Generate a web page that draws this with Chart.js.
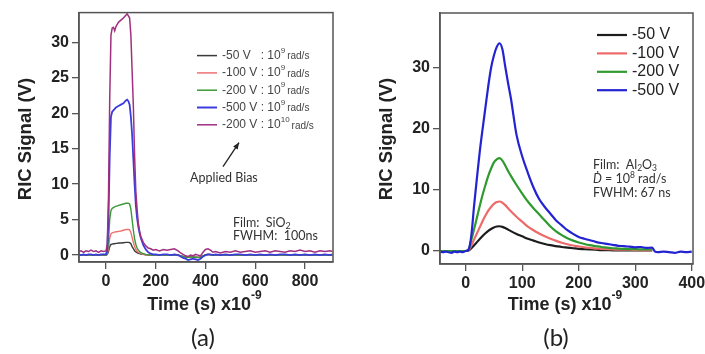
<!DOCTYPE html>
<html><head><meta charset="utf-8">
<script src="https://cdn.jsdelivr.net/npm/chart.js@4/dist/chart.umd.min.js"></script>
<style>
html,body{margin:0;padding:0;background:#fff;overflow:hidden;width:705px;height:354px;}
#wrap{position:relative;width:705px;height:354px;overflow:hidden;background:#fff;}
canvas{position:absolute;top:0;}
#ca{left:0;} #cb{left:360px;}
.lab{position:absolute;font-family:Lato,'Open Sans',sans-serif;font-size:24px;color:#222;transform:translate(-50%,-50%);line-height:1;white-space:nowrap;}
</style></head><body>
<div id="wrap">
<canvas id="ca" width="360" height="354"></canvas>
<canvas id="cb" width="360" height="354"></canvas>
<div class="lab" style="left:203px;top:337px">(a)</div>
<div class="lab" style="left:556px;top:337px">(b)</div>
</div>
<script>
// ---------------- Panel (a): SiO2, time in ns ----------------
const timeA = [
-110,-100,-90,-80,-70,-60,-50,-40,-30,-20,-10,
0,5,10,15,20,25,30,35,40,45,50,
60,70,80,85,90,95,100,105,110,115,
120,125,130,135,140,150,160,170,180,190,
200,215,230,245,260,275,290,300,310,320,
330,340,350,360,370,380,390,400,410,420,
430,440,460,480,500,520,540,560,580,600,
620,640,660,680,700,720,740,760,780,800,
820,840,860,880,900,910];
const a_m50 = [
0,0.05,0,0.05,0,0,0.05,0,0,0.05,0,
0,0.1,0.5,1.2,1.5,1.55,1.6,1.6,1.65,1.65,1.7,
1.7,1.75,1.8,1.8,1.8,1.75,1.6,1.2,0.9,0.6,
0.45,0.35,0.25,0.2,0.15,0.1,0.05,0,0,0,
0,0.05,0,0,0.05,0,0,-0.1,-0.2,-0.25,
-0.3,-0.2,-0.25,-0.3,-0.3,-0.25,-0.1,0,0.1,0.05,
0,0.05,0,0,0.05,0,0,0.05,0,0,
0.05,0,0,0.05,0,0,0.05,0,0,0.05,
0,0,0.05,0,0,0];
const a_m100 = [
0,0,0.05,0,0,0.05,0,0,0.05,0,0,
0,0.2,1.0,2.4,3.0,3.15,3.2,3.25,3.3,3.3,3.35,
3.4,3.5,3.6,3.6,3.6,3.55,3.2,2.5,1.8,1.2,
0.8,0.55,0.4,0.3,0.2,0.1,0.05,0,0,0,
0.05,0,0,0.05,0,0,0.05,-0.1,-0.2,-0.3,
-0.3,-0.25,-0.3,-0.35,-0.3,-0.25,-0.1,0.05,0.1,0.05,
0,0,0.05,0,0,0.05,0,0,0.05,0,
0,0.05,0,0,0.05,0,0,0.05,0,0,
0.05,0,0,0.05,0,0];
const a_m200 = [
0,0.05,0,0,0.05,0,0,0.05,0,0,0.05,
0,0.3,2.0,5.0,6.3,6.6,6.7,6.8,6.9,6.9,7.0,
7.1,7.2,7.3,7.3,7.3,7.2,6.5,5.0,3.5,2.3,
1.5,1.0,0.7,0.5,0.35,0.2,0.1,0.05,0,0,
0,0,0.05,0,0,0.05,0,-0.1,-0.2,-0.3,
-0.3,-0.25,-0.3,-0.3,-0.35,-0.3,-0.1,0.05,0.1,0.05,
0,0.05,0,0.05,0,0,0.05,0,0.05,0,
0,0.05,0,0,0.05,0,0.05,0,0,0.05,
0,0.05,0,0.05,0,0];
const a_m500 = [
0.1,0.0,0.1,0.0,0.1,0.1,0.0,0.1,0.0,0.1,0.1,
0.1,0.8,5,14,19.5,20.2,20.4,20.6,20.8,20.9,21.0,
21.2,21.4,21.8,21.9,21.7,21.2,19.5,17,13.5,10,
7,5.2,4,3.1,2.4,1.4,0.8,0.4,0.2,0.1,
0.1,0.0,0.1,0.1,0.0,0.1,0.0,-0.2,-0.4,-0.5,
-0.7,-0.6,-0.5,-0.6,-0.7,-0.5,-0.2,0.0,0.1,0.1,
0.0,0.1,0.0,0.1,0.0,0.1,0.1,0.0,0.1,0.0,
0.1,0.0,0.1,0.0,0.1,0.1,0.0,0.1,0.0,0.1,
0.0,0.1,0.0,0.1,0.0,0.1];
const a_m200_hi = [
0.5,0.6,0.4,0.6,0.5,0.7,0.5,0.6,0.4,0.6,0.5,
0.6,1.5,8,22,31,32,32.1,31.6,32.2,32.5,32.8,
33.1,33.4,33.8,34.0,33.7,33.4,31,26,21,14,
9,6.5,4.5,3.4,2.6,1.8,1.3,1.0,0.9,0.7,
0.8,0.6,0.8,0.7,0.8,0.9,0.6,0.3,0.1,-0.1,
-0.2,0.0,-0.1,0.1,0.0,-0.1,0.4,0.8,0.9,0.7,
0.4,0.5,0.3,0.5,0.4,0.6,0.4,0.5,0.6,0.4,
0.5,0.6,0.4,0.6,0.5,0.4,0.6,0.5,0.7,0.5,
0.6,0.4,0.6,0.5,0.6,0.5];
const legendA_bias = ['-50 V','-100 V','-200 V','-500 V','-200 V'];
const legendA_exp = ['9','9','9','9','10'];
const xTicksA = [0,200,400,600,800];
const yTicksA = [0,5,10,15,20,25,30];

// ---------------- Panel (b): Al2O3 ----------------
const timeB = [
-45,-40,-35,-30,-25,-20,-15,-10,-5,0,
5,10,15,20,25,30,35,40,45,50,55,60,65,70,75,80,
90,100,110,120,130,140,150,160,170,180,
190,200,210,220,230,240,250,260,270,280,
290,300,310,320,330,
335,340,350,360,370,380,390,400];
const b_m50 = [
0,0,0,0,0,0,0,0,0,0,
0.05,0.45,0.95,1.45,1.95,2.45,2.9,3.3,3.6,3.85,4.0,4.05,3.95,3.75,3.5,3.25,
2.8,2.4,2.0,1.7,1.4,1.15,0.95,0.8,0.65,0.55,
0.45,0.35,0.3,0.25,0.2,0.15,0.15,0.1,0.1,0.1,
0.1,0.1,0.1,0.1,0.1,
null,null,null,null,null,null,null,null];
const b_m100 = [
0,0,0,0,0,0,0,0,0,0,
0.1,0.9,1.9,2.9,3.9,4.9,5.8,6.6,7.2,7.7,8.0,8.1,7.9,7.5,7.0,6.5,
5.6,4.8,4.0,3.4,2.85,2.4,2.0,1.65,1.35,1.1,
0.9,0.75,0.6,0.5,0.4,0.35,0.3,0.25,0.2,0.2,
0.2,0.15,0.15,0.15,0.15,
null,null,null,null,null,null,null,null];
const b_m200 = [
0,0,0,0,0,0,0,0,0,0,
0.2,1.8,3.6,5.5,7.4,9.2,10.8,12.3,13.5,14.5,15.0,15.2,14.8,14.0,13.1,12.3,
10.8,9.4,8.1,7.0,6.0,5.0,4.0,3.2,2.6,2.1,
1.7,1.4,1.15,0.95,0.8,0.65,0.55,0.45,0.4,0.35,
0.3,0.3,0.25,0.25,0.25,
null,null,null,null,null,null,null,null];
const b_m500 = [
-0.1,-0.2,-0.1,-0.2,-0.3,-0.1,-0.2,-0.1,-0.2,0.0,
0.2,2.5,7.5,12,16.3,20,23.5,27,30,32,33.4,34,33,30.2,27.5,25,
19,15.5,12.8,10.4,8.5,7.2,6.1,5.0,4.2,3.4,
2.8,2.3,2.0,1.75,1.5,1.3,1.15,1.0,0.85,0.8,
0.7,0.6,0.65,0.5,0.55,
-0.1,-0.2,-0.1,-0.2,-0.3,-0.1,-0.2,-0.1];
const legendB = ['-50 V','-100 V','-200 V','-500 V'];
const xTicksB = [0,100,200,300,400];
const yTicksB = [0,10,20,30];

// ---------------- helpers ----------------
const ARIAL = '"Liberation Sans", Arial, sans-serif';
const CAL = 'Lato, "Open Sans", sans-serif';
function pts(t, v){ return t.map((x,i)=>({x:x, y:v[i]})); }
function rich(ctx, x, y, parts, color){
  ctx.save(); ctx.fillStyle = color; ctx.textBaseline = 'middle'; ctx.textAlign = 'left';
  for (const [t,f,dy] of parts){ ctx.font = f; ctx.fillText(t, x, y + (dy||0)); x += ctx.measureText(t).width; }
  ctx.restore(); return x;
}
function richWidth(ctx, parts){
  let w = 0; ctx.save();
  for (const [t,f] of parts){ ctx.font = f; w += ctx.measureText(t).width; }
  ctx.restore(); return w;
}
function scales(xr, xt, yr, yt){
  const mk = (ticksArr, fitFn) => ({
    type:'linear',
    grid:{display:true, drawOnChartArea:false, drawTicks:true, tickLength:7, color:'#555', lineWidth:1.3},
    border:{display:true, color:'#555', width:1.5},
    ticks:{color:'#222', font:{family:ARIAL, size:16, weight:'bold'}, padding:3, autoSkip:false, maxRotation:0,
           callback:v=>String(v)},
    afterBuildTicks:s=>{ s.ticks = ticksArr.map(v=>({value:v})); },
    afterFit:fitFn
  });
  const x = mk(xt, s=>{ s.height = 30; }); x.min = xr[0]; x.max = xr[1];
  const y = mk(yt, s=>{ s.width = 40; }); y.min = yr[0]; y.max = yr[1];
  return {x, y};
}
function frameAndTitles(c){
  const ctx = c.ctx, a = c.chartArea;
  ctx.save();
  ctx.strokeStyle = '#555'; ctx.lineWidth = 1.5;
  ctx.strokeRect(a.left, a.top, a.right - a.left, a.bottom - a.top);
  ctx.translate(a.left - 53.5, 139); ctx.rotate(-Math.PI/2);
  ctx.fillStyle = '#222'; ctx.font = 'bold 18.5px ' + ARIAL; ctx.textAlign = 'center'; ctx.textBaseline = 'middle';
  ctx.fillText('RIC Signal (V)', 0, 0);
  ctx.restore();
  const parts = [['Time (s) x10', 'bold 18px ' + ARIAL, 0], ['-9', 'bold 12px ' + ARIAL, -9]];
  const w = richWidth(ctx, parts);
  rich(ctx, (a.left + a.right)/2 - 1.5 - w/2, 305, parts, '#222');
}

// ---------------- chart (a) ----------------
const dsA = [
  {label:'-200 V : 1e10', data:pts(timeA,a_m200_hi), borderColor:'#a0307f', borderWidth:1.5, order:0},
  {label:'-500 V', data:pts(timeA,a_m500), borderColor:'#3c3cdc', borderWidth:1.8, order:1},
  {label:'-200 V', data:pts(timeA,a_m200), borderColor:'#3a9a3a', borderWidth:1.4, order:2},
  {label:'-100 V', data:pts(timeA,a_m100), borderColor:'#f07070', borderWidth:1.4, order:3},
  {label:'-50 V', data:pts(timeA,a_m50), borderColor:'#3a3a3a', borderWidth:1.4, order:4}
];
const legendColorsA = ['#3a3a3a','#f07070','#3a9a3a','#3c3cdc','#a0307f'];
const plugA = {
  id:'plugA',
  afterDraw(c){
    const ctx = c.ctx, a = c.chartArea;
    frameAndTitles(c);
    for (let i = 0; i < legendA_bias.length; i++){
      const y = a.top + 43 + i*17.3;
      ctx.save(); ctx.strokeStyle = legendColorsA[i]; ctx.lineWidth = i===3 ? 2 : 1.5;
      ctx.beginPath(); ctx.moveTo(a.left + 118, y); ctx.lineTo(a.left + 138, y); ctx.stroke(); ctx.restore();
      const f = '12px ' + ARIAL;
      rich(ctx, a.left + 143, y, [[legendA_bias[i], f, 0]], '#444');
      const xe = rich(ctx, a.left + 181.7, y, [[':', f, 0], [' 10', f, 0], [legendA_exp[i], '8px ' + ARIAL, -5]], '#444');
      rich(ctx, xe + 2, y + 1, [['rad/s', '10px ' + ARIAL, 0]], '#444');
    }
    ctx.save(); ctx.strokeStyle = '#222'; ctx.fillStyle = '#222'; ctx.lineWidth = 1.3;
    const x0 = a.left + 144, y0 = a.top + 154, x1 = a.left + 160, y1 = a.top + 130;
    ctx.beginPath(); ctx.moveTo(x0, y0); ctx.lineTo(x1, y1); ctx.stroke();
    const ang = Math.atan2(y1 - y0, x1 - x0), L = 7;
    ctx.beginPath(); ctx.moveTo(x1, y1);
    ctx.lineTo(x1 - L*Math.cos(ang - 0.4), y1 - L*Math.sin(ang - 0.4));
    ctx.lineTo(x1 - L*Math.cos(ang + 0.4), y1 - L*Math.sin(ang + 0.4));
    ctx.closePath(); ctx.fill(); ctx.restore();
    const fc = '12.5px ' + CAL;
    rich(ctx, a.left + 111, a.top + 165, [['Applied Bias', fc, 0]], '#333');
    rich(ctx, a.left + 154, a.top + 210, [['Film:  SiO', fc, 0], ['2', '9px ' + CAL, 3]], '#333');
    rich(ctx, a.left + 154, a.top + 223, [['FWHM:  100ns', fc, 0]], '#333');
  }
};
new Chart(document.getElementById('ca'), {
  type:'line',
  data:{datasets:dsA.map(d=>Object.assign({pointRadius:0, tension:0, fill:false, spanGaps:false}, d))},
  options:{
    responsive:false, animation:false, devicePixelRatio:1,
    layout:{padding:{left:39, right:27, top:9, bottom:62}},
    plugins:{legend:{display:false}, tooltip:{enabled:false}},
    scales:scales([-108.5, 912.6], xTicksA, [-0.97, 34.17], yTicksA)
  },
  plugins:[plugA]
});

// ---------------- chart (b) ----------------
const colorsB = ['#1c1c1c','#ec6a6a','#2f9a2f','#2323d2'];
const valsB = [b_m50, b_m100, b_m200, b_m500];
const dsB = legendB.map((l,i)=>({label:l, data:pts(timeB, valsB[i]), borderColor:colorsB[i], borderWidth:2.2,
  order: 3 - i, pointRadius:0, cubicInterpolationMode:'monotone', fill:false, spanGaps:false}));
const plugB = {
  id:'plugB',
  afterDraw(c){
    const ctx = c.ctx, a = c.chartArea;
    frameAndTitles(c);
    for (let i = 0; i < legendB.length; i++){
      const y = a.top + 22 + i*18.4;
      ctx.save(); ctx.strokeStyle = colorsB[i]; ctx.lineWidth = 2.2;
      ctx.beginPath(); ctx.moveTo(a.left + 157, y); ctx.lineTo(a.left + 187, y); ctx.stroke(); ctx.restore();
      rich(ctx, a.left + 192, y, [[legendB[i], '16px ' + ARIAL, 0]], '#222');
    }
    const fc = '12.5px ' + CAL, fs = '8.5px ' + CAL;
    rich(ctx, a.left + 153, a.top + 152, [['Film:  Al', fc, 0], ['2', fs, 3], ['O', fc, 0], ['3', fs, 3]], '#333');
    rich(ctx, a.left + 153, a.top + 166, [['Ḋ', 'italic 12.5px ' + CAL, 0], [' = 10', fc, 0], ['8', fs, -4], [' rad/s', fc, 0]], '#333');
    rich(ctx, a.left + 153, a.top + 180, [['FWHM: 67 ns', fc, 0]], '#333');
  }
};
new Chart(document.getElementById('cb'), {
  type:'line',
  data:{datasets:dsB},
  options:{
    responsive:false, animation:false, devicePixelRatio:1,
    layout:{padding:{left:40, right:27, top:13, bottom:60}},
    plugins:{legend:{display:false}, tooltip:{enabled:false}},
    scales:scales([-45.4, 402.2], xTicksB, [-2.13, 38.95], yTicksB)
  },
  plugins:[plugB]
});
</script>
</body></html>
